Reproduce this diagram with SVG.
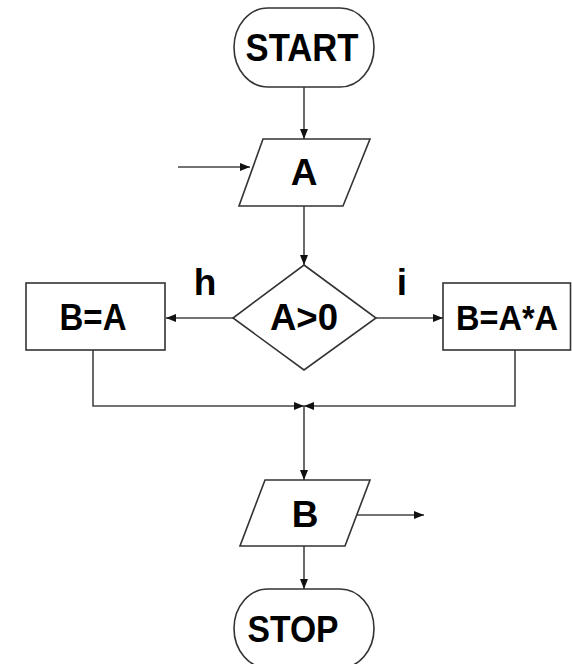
<svg xmlns="http://www.w3.org/2000/svg" width="572" height="664" viewBox="0 0 572 664">
<defs>
<marker id="ah" viewBox="0 0 10 10" refX="10" refY="5" markerWidth="10" markerHeight="10" markerUnits="userSpaceOnUse" orient="auto">
<path d="M0,1 L10,5 L0,9 Z" fill="#111"/>
</marker>
</defs>
<style>
.s{fill:#fff;stroke:#333;stroke-width:1.6}
.c{fill:none;stroke:#444;stroke-width:1.6}
.t{font-family:"Liberation Sans",Arial,sans-serif;font-weight:bold;font-size:37px;fill:#000;text-anchor:middle}
</style>
<rect width="572" height="664" fill="#fff"/>
<g id="connectors">
<line class="c" x1="304" y1="87" x2="304" y2="139" marker-end="url(#ah)"/>
<line class="c" x1="178" y1="167" x2="250" y2="167" marker-end="url(#ah)"/>
<line class="c" x1="304" y1="206" x2="304" y2="265" marker-end="url(#ah)"/>
<line class="c" x1="233" y1="318" x2="166" y2="318" marker-end="url(#ah)"/>
<line class="c" x1="376" y1="318" x2="443" y2="318" marker-end="url(#ah)"/>
<polyline class="c" points="93,350 93,406 304,406" marker-end="url(#ah)"/>
<polyline class="c" points="515,350 515,406 304,406" marker-end="url(#ah)"/>
<line class="c" x1="304" y1="406" x2="304" y2="480" marker-end="url(#ah)"/>
<line class="c" x1="357" y1="515" x2="424" y2="515" marker-end="url(#ah)"/>
<line class="c" x1="304" y1="546" x2="304" y2="589" marker-end="url(#ah)"/>
<text class="t" x="205" y="295">h</text>
<text class="t" x="402" y="295">i</text>
</g>
<g id="start">
<rect class="s" x="234" y="8" width="140" height="79" rx="34" ry="39.5"/>
<text class="t" x="302" y="61" textLength="113" lengthAdjust="spacingAndGlyphs" style="font-size:39px">START</text>
</g>
<g id="inputA">
<polygon class="s" points="263,139 370,139 343,206 239,206"/>
<text class="t" x="304" y="185">A</text>
</g>
<g id="decision">
<polygon class="s" points="304,265 376,318 304,370 233,318"/>
<text class="t" x="304" y="330" textLength="68" lengthAdjust="spacingAndGlyphs">A&gt;0</text>
</g>
<g id="left">
<rect class="s" x="26" y="283" width="139" height="67"/>
<text class="t" x="93" y="330" textLength="67" lengthAdjust="spacingAndGlyphs">B=A</text>
</g>
<g id="right">
<rect class="s" x="443" y="283" width="127.5" height="67"/>
<text class="t" x="507" y="330" textLength="102" lengthAdjust="spacingAndGlyphs" style="font-size:35px">B=A*A</text>
</g>
<g id="outputB">
<polygon class="s" points="265,480 370,480 345,546 240,546"/>
<text class="t" x="305" y="527">B</text>
</g>
<g id="stop">
<rect class="s" x="234" y="589" width="140" height="79" rx="34" ry="39.5"/>
<text class="t" x="293" y="642" textLength="91" lengthAdjust="spacingAndGlyphs">STOP</text>
</g>
</svg>
